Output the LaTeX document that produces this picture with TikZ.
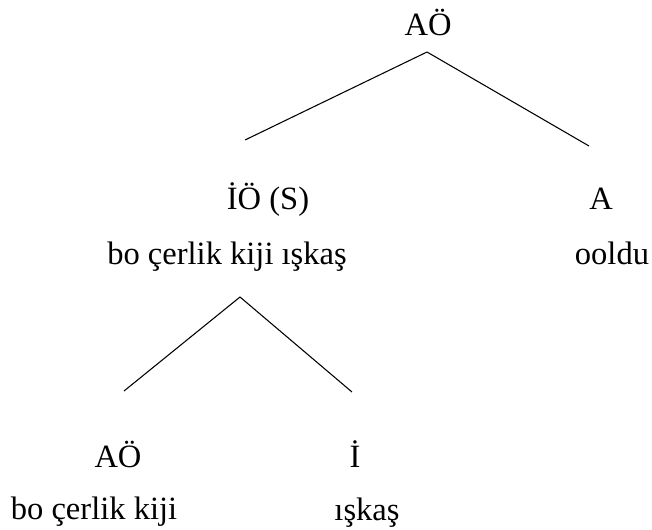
\documentclass[tikz,border=0pt]{standalone}
\usepackage{fontspec}
\setmainfont{Liberation Serif}
\usepackage{tikz}
\usetikzlibrary{positioning}
\tikzset{
    % Text styles
    label/.style={anchor=base, inner sep=0pt, font=\fontsize{24.4}{29}\selectfont},
    % Line styles
    branch/.style={draw, line width=0.8pt},
}

\begin{document}
\begin{tikzpicture}[x=0.75pt, y=-0.75pt]
    \useasboundingbox (0,0) rectangle (652,529);

    % Top level
    \node[label] (root) at (428, 35) {AÖ};
    \coordinate (rootfoot) at (427, 52);
    \coordinate (leftend) at (245, 140);
    \coordinate (rightend) at (589, 146);
    \draw[branch] (rootfoot) -- (leftend);
    \draw[branch] (rootfoot) -- (rightend);

    % Second level
    \node[label] (io) at (268, 209) {İÖ (S)};
    \node[label] (iotext) at (227, 264) {bo çerlik kiji ışkaş};
    \node[label] (a) at (601, 209) {A};
    \node[label] (atext) at (612, 264) {ooldu};

    % Subtree
    \coordinate (iofoot) at (240, 297);
    \coordinate (subleft) at (124, 391);
    \coordinate (subright) at (352, 392);
    \draw[branch] (iofoot) -- (subleft);
    \draw[branch] (iofoot) -- (subright);

    % Bottom level
    \node[label] (ao) at (118, 467) {AÖ};
    \node[label] (aotext) at (94, 519) {bo çerlik kiji};
    \node[label] (i) at (355, 467) {İ};
    \node[label] (itext) at (367, 520) {ışkaş};
\end{tikzpicture}
\end{document}
